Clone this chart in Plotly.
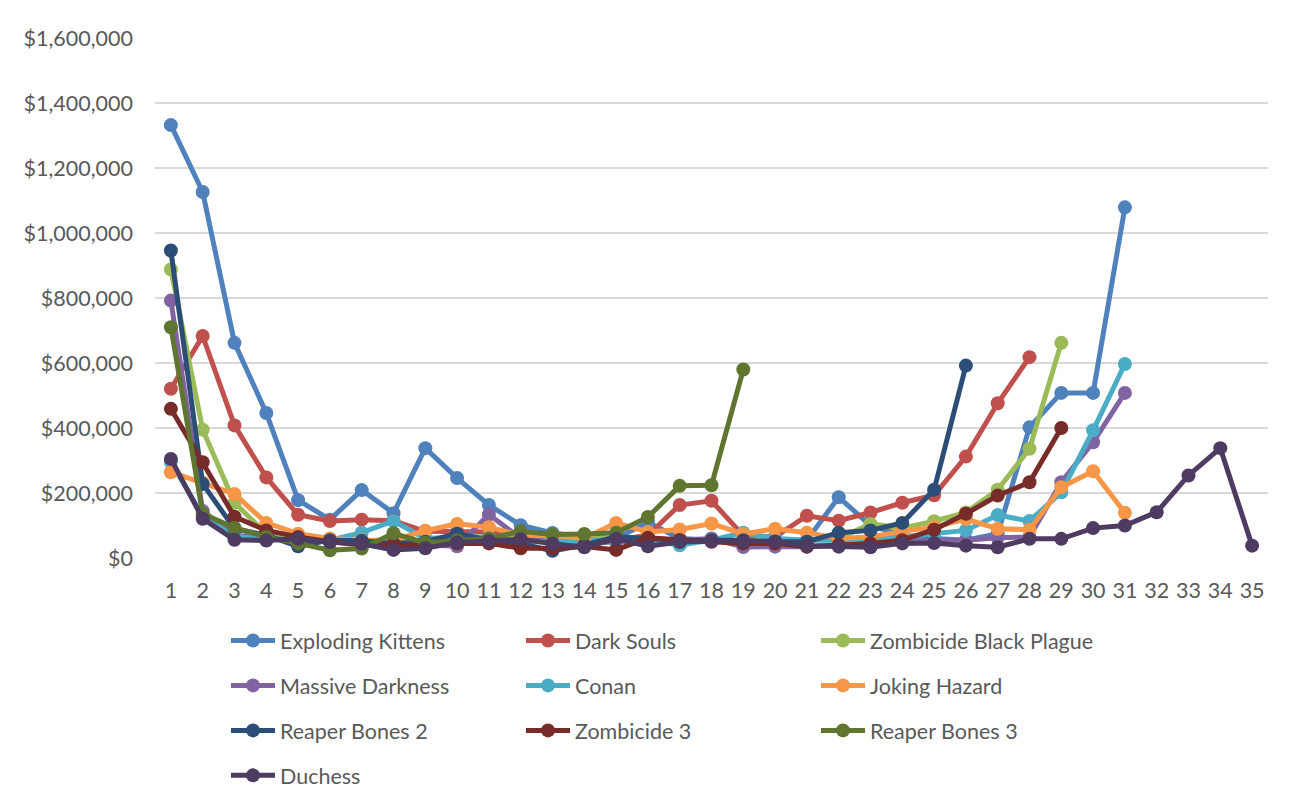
import plotly.graph_objects as go

periods = list(range(1, 36))

exploding_kittens = [1332000, 1126000, 662000, 446000, 178000, 118000, 209000, 138000, 338000, 246000,
                     163000, 101000, 77000, 65000, 60000, 110000, 60000, 55000, 50000, 50000,
                     55000, 187000, 100000, 70000, 60000, 55000, 75000, 402000, 508000, 508000, 1079000]
dark_souls = [521000, 683000, 408000, 248000, 133000, 114000, 118000, 115000, 82000, 82000,
              80000, 60000, 55000, 55000, 55000, 70000, 163000, 176000, 69000, 65000,
              130000, 115000, 140000, 170000, 193000, 312000, 476000, 618000]
zombicide_bp = [888000, 395000, 170000, 75000, 65000, 55000, 50000, 50000, 55000, 55000,
                55000, 65000, 60000, 60000, 60000, 60000, 55000, 55000, 55000, 55000,
                55000, 60000, 105000, 92000, 113000, 140000, 210000, 336000, 662000]
massive_darkness = [792000, 145000, 70000, 60000, 55000, 50000, 45000, 40000, 40000, 36000,
                    134000, 60000, 50000, 45000, 50000, 55000, 55000, 60000, 34000, 35000,
                    35000, 40000, 45000, 50000, 55000, 55000, 62000, 65000, 233000, 356000, 508000]
conan = [295000, 130000, 65000, 60000, 55000, 55000, 78000, 114000, 60000, 65000,
         65000, 50000, 50000, 55000, 55000, 55000, 39000, 55000, 78000, 60000,
         55000, 55000, 60000, 65000, 75000, 85000, 132000, 114000, 202000, 393000, 597000]
joking_hazard = [264000, 232000, 197000, 108000, 75000, 60000, 55000, 55000, 84000, 105000,
                 95000, 70000, 70000, 60000, 108000, 80000, 88000, 106000, 74000, 90000,
                 78000, 60000, 65000, 82000, 95000, 120000, 90000, 87000, 218000, 267000, 139000]
reaper_bones_2 = [946000, 228000, 90000, 70000, 36000, 55000, 53000, 45000, 50000, 75000,
                  55000, 45000, 22000, 40000, 65000, 60000, 55000, 55000, 55000, 50000,
                  50000, 78000, 85000, 108000, 210000, 592000]
zombicide_3 = [459000, 295000, 127000, 85000, 65000, 50000, 40000, 40000, 40000, 45000,
               45000, 30000, 30000, 35000, 25000, 62000, 55000, 50000, 45000, 45000,
               35000, 40000, 45000, 55000, 87000, 136000, 192000, 233000, 400000]
reaper_bones_3 = [710000, 136000, 93000, 65000, 45000, 24000, 29000, 76000, 47000, 55000,
                  60000, 82000, 72000, 74000, 78000, 126000, 222000, 224000, 580000]
duchess = [305000, 121000, 56000, 54000, 59000, 49000, 44000, 25000, 30000, 48000,
           52000, 58000, 44000, 33000, 59000, 36000, 49000, 52000, 51000, 51000,
           38000, 35000, 33000, 45000, 46000, 38000, 33000, 59000, 59000, 92000,
           100000, 141000, 254000, 338000, 38000]

y_ticks = [0, 200000, 400000, 600000, 800000, 1000000, 1200000, 1400000, 1600000]
y_tick_text = ["$0", "$200,000", "$400,000", "$600,000", "$800,000", "$1,000,000",
               "$1,200,000", "$1,400,000", "$1,600,000"]

series = [
    ("Exploding Kittens", exploding_kittens, "#4F81BD", "legend"),
    ("Dark Souls", dark_souls, "#C0504D", "legend2"),
    ("Zombicide Black Plague", zombicide_bp, "#9BBB59", "legend3"),
    ("Massive Darkness", massive_darkness, "#8064A2", "legend"),
    ("Conan", conan, "#4BACC6", "legend2"),
    ("Joking Hazard", joking_hazard, "#F79646", "legend3"),
    ("Reaper Bones 2", reaper_bones_2, "#2C4D75", "legend"),
    ("Zombicide 3", zombicide_3, "#772C2A", "legend2"),
    ("Reaper Bones 3", reaper_bones_3, "#5F7530", "legend3"),
    ("Duchess", duchess, "#4D3B62", "legend"),
]

fig = go.Figure()
for name, vals, color, leg in series:
    fig.add_trace(go.Scatter(
        x=periods[:len(vals)], y=vals, name=name, mode="lines+markers",
        line=dict(color=color, width=5),
        marker=dict(color=color, size=14),
        legend=leg, legendgroup=name,
    ))

font_family = "Lato, 'Open Sans', sans-serif"
fsize = 21.5
legend_common = dict(
    orientation="v", font=dict(family=font_family, size=fsize, color="#595959"),
    bgcolor="rgba(0,0,0,0)", tracegroupgap=14, itemwidth=44,
    xanchor="left", yanchor="top", yref="paper", xref="paper",
)

# page has an 8px body margin; work in figure coordinates
W, H = 1285, 797
left, right, top, bottom = 147, 1260, 30, 550
pw = right - left
ph = bottom - top

def px_to_paper_x(px):
    return (px - left) / pw

def px_to_paper_y(py):
    return (bottom - py) / ph

legend_top = px_to_paper_y(612)

fig.update_layout(
    width=W, height=H,
    margin=dict(l=left, r=W - right, t=top, b=H - bottom, autoexpand=False),
    paper_bgcolor="white", plot_bgcolor="white",
    font=dict(family=font_family, size=fsize, color="#595959"),
    showlegend=True,
    legend=dict(x=px_to_paper_x(218), y=legend_top, **legend_common),
    legend2=dict(x=px_to_paper_x(513), y=legend_top, **legend_common),
    legend3=dict(x=px_to_paper_x(808), y=legend_top, **legend_common),
    xaxis=dict(
        range=[0.5, 35.5], tickmode="array", tickvals=periods,
        ticktext=[str(p) for p in periods], showgrid=False, zeroline=False,
        showline=False, ticks="", tickfont=dict(size=fsize, color="#595959"),
        ticklabelstandoff=17,
    ),
    yaxis=dict(
        range=[0, 1600000], tickmode="array", tickvals=y_ticks, ticktext=y_tick_text,
        showgrid=True, gridcolor="#D9D9D9", gridwidth=1.5, zeroline=False,
        showline=False, ticks="", tickfont=dict(size=fsize, color="#595959"),
        ticklabelstandoff=21,
    ),
)

fig.write_html("out.html")
